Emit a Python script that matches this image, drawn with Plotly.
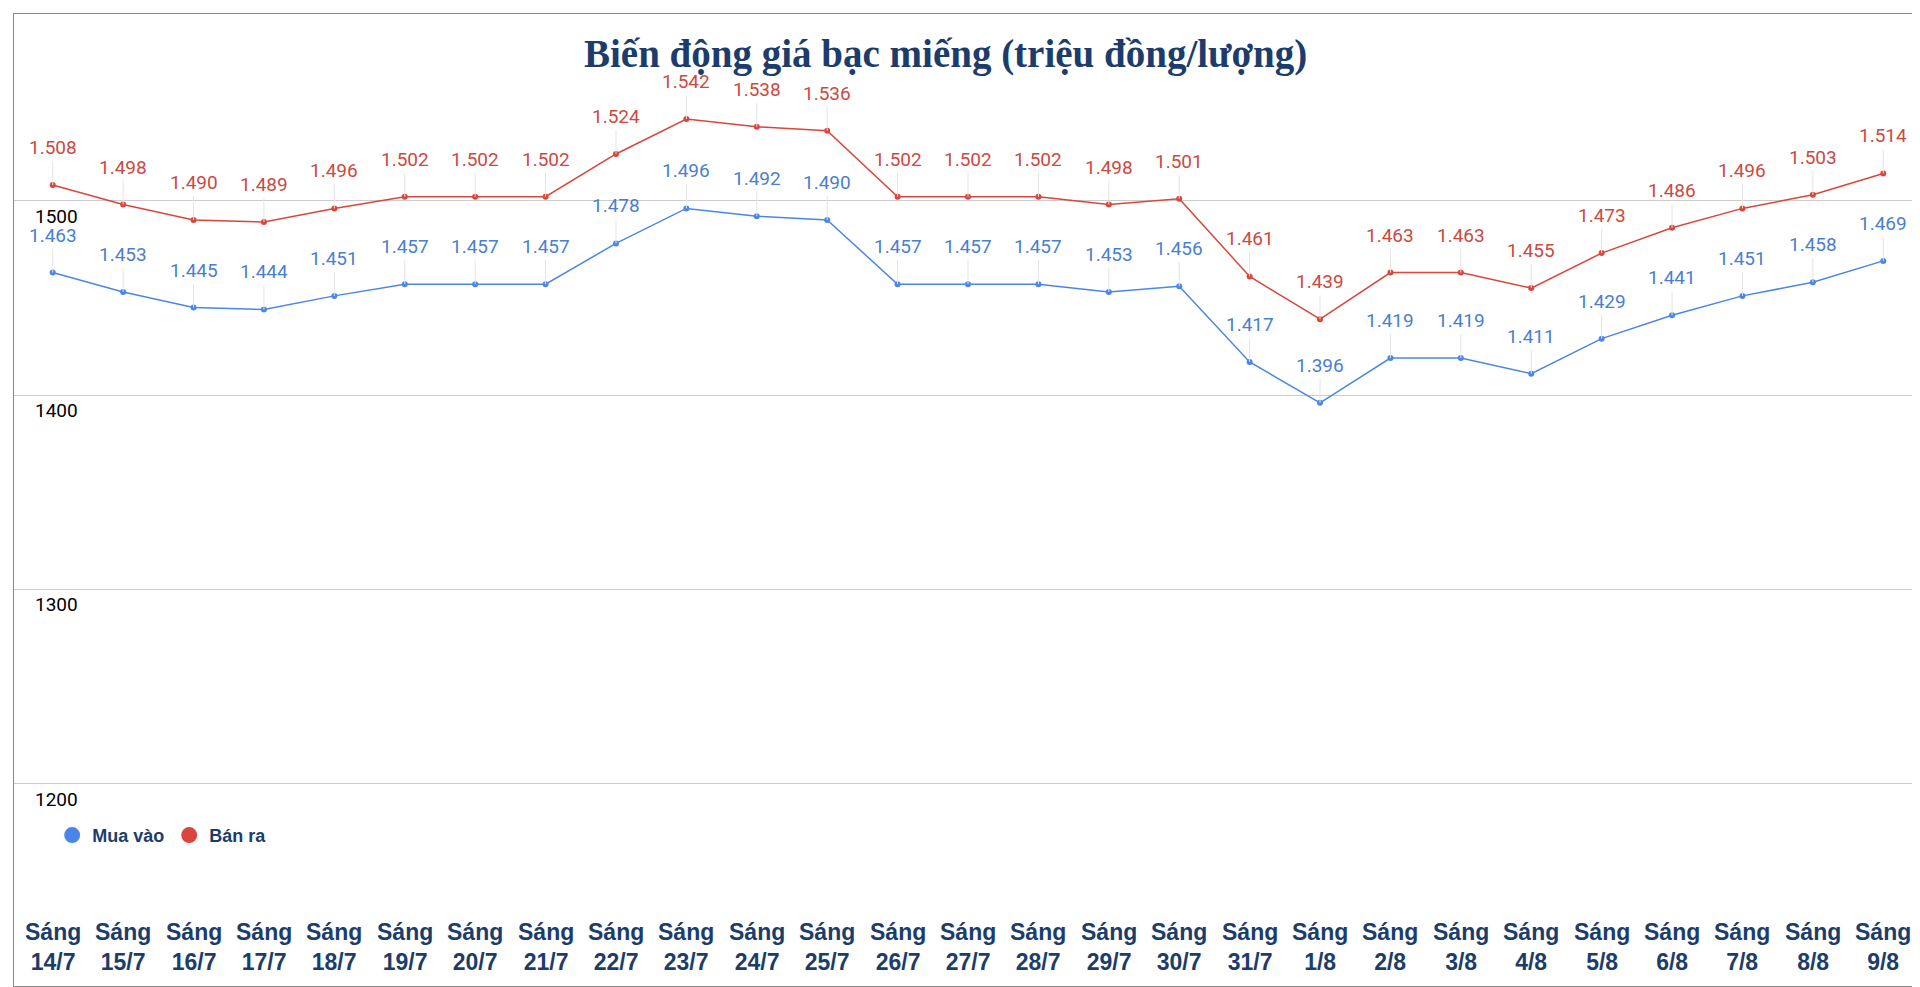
import plotly.graph_objects as go

days = ["14/7", "15/7", "16/7", "17/7", "18/7", "19/7", "20/7", "21/7", "22/7", "23/7",
        "24/7", "25/7", "26/7", "27/7", "28/7", "29/7", "30/7", "31/7", "1/8", "2/8",
        "3/8", "4/8", "5/8", "6/8", "7/8", "8/8", "9/8"]
mua_vao = [1463, 1453, 1445, 1444, 1451, 1457, 1457, 1457, 1478, 1496, 1492, 1490, 1457, 1457,
           1457, 1453, 1456, 1417, 1396, 1419, 1419, 1411, 1429, 1441, 1451, 1458, 1469]
ban_ra = [1508, 1498, 1490, 1489, 1496, 1502, 1502, 1502, 1524, 1542, 1538, 1536, 1502, 1502,
          1502, 1498, 1501, 1461, 1439, 1463, 1463, 1455, 1473, 1486, 1496, 1503, 1514]
grid_vals = [1200, 1300, 1400, 1500]

BLUE = "#4a86e8"
RED = "#d9463b"
NAVY = "#1c3d6b"

x = list(range(len(days)))
fig = go.Figure()
for name, series, color in [("Mua vào", mua_vao, BLUE), ("Bán ra", ban_ra, RED)]:
    fig.add_trace(go.Scatter(x=x, y=series, name=name, mode="lines+markers", showlegend=False,
                             line=dict(color=color, width=1.5), marker=dict(size=6, color=color)))
    # legend entry: dot only
    fig.add_trace(go.Scatter(x=[None], y=[None], name=f"<b>{name}</b>", mode="markers",
                             marker=dict(size=18, color=color)))

ann = []
# data labels with thin leader lines
for series, color in [(mua_vao, "#4a7fd0"), (ban_ra, "#cc4a3f")]:
    for i, v in enumerate(series):
        ann.append(dict(x=i, y=v, text=f"{v/1000:.3f}", showarrow=True, arrowhead=0,
                        arrowcolor="#e4e4e4", arrowwidth=1, ax=0, ay=-24,
                        yanchor="bottom", font=dict(size=19, color=color, family="Roboto")))
# category labels
for i, d in enumerate(days):
    ann.append(dict(x=i, y=1116, text=f"<b>Sáng<br>{d}</b>", showarrow=False,
                    font=dict(size=23, color=NAVY, family="Liberation Sans"), align="center"))
# y labels
for g in grid_vals:
    ann.append(dict(x=0.01, xref="paper", y=g, text=str(g), showarrow=False,
                    xanchor="left", yanchor="top", yshift=-2,
                    font=dict(size=19, color="black", family="Roboto")))
ann.append(dict(x=0.488, xref="paper", y=1.0, yref="paper", yshift=-16, showarrow=False,
                text="<b>Biến động giá bạc miếng (triệu đồng/lượng)</b>", yanchor="top",
                font=dict(size=39, color=NAVY, family="Liberation Serif")))

fig.update_layout(
    width=1920, height=987,
    margin=dict(l=6, r=6, t=5, b=7),
    plot_bgcolor="white", paper_bgcolor="white",
    annotations=ann,
    showlegend=True,
    legend=dict(orientation="h", x=0.02, y=0.155, xanchor="left", yanchor="middle",
                font=dict(size=18, color=NAVY, family="Liberation Sans"),
                bgcolor="rgba(0,0,0,0)"),
)
fig.update_xaxes(range=[-0.55, len(days) - 0.45], showticklabels=False, showgrid=False,
                 zeroline=False, showline=True, linecolor="#888", mirror=True,
                 ticks="outside", tickvals=x, ticklen=4, tickcolor="#333")
fig.update_yaxes(range=[1096, 1596], tickvals=grid_vals, showticklabels=False,
                 gridcolor="#cccccc", zeroline=False, showline=True, linecolor="#888",
                 mirror=True)

fig.write_html("out.html")
